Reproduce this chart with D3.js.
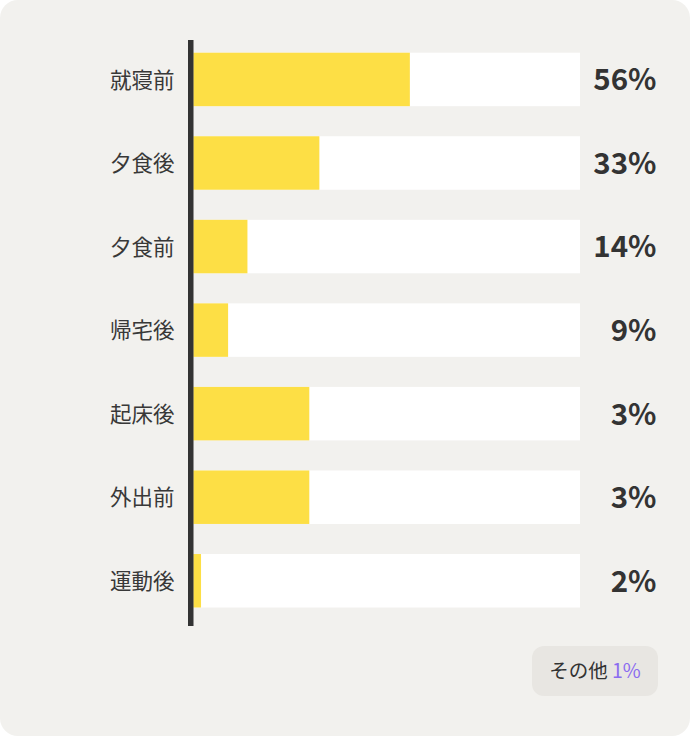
<!DOCTYPE html>
<html><head><meta charset="utf-8">
<script src="https://cdn.jsdelivr.net/npm/d3@7"></script>
<style>
html,body{margin:0;padding:0;background:#fff;}
svg{display:block;}
</style></head>
<body>
<svg id="c" width="690" height="736"></svg>
<script>
const categories = ["就寝前","夕食後","夕食前","帰宅後","起床後","外出前","運動後"];
const barValues = [56, 32.6, 14, 9, 30, 30, 2];
const valueLabels = ["56%","33%","14%","9%","3%","3%","2%"];
const otherLabel = "その他";
const otherValue = "1%";

const W = 690, H = 736;
const svg = d3.select("#c");
const font = "'Noto Sans CJK JP','Noto Sans',sans-serif";

svg.append("rect").attr("x",0).attr("y",0).attr("width",W).attr("height",H)
  .attr("rx",18).attr("fill","#f2f1ee");

const y = d3.scaleBand().domain(categories).range([52.7, 607.5]).paddingInner(0.36).paddingOuter(0);
const x = d3.scaleLinear().domain([0,100]).range([193.3, 580]);

const g = svg.append("g");
g.selectAll("rect.track").data(categories).join("rect").attr("class","track")
  .attr("x", x(0)).attr("y", d=>y(d)).attr("width", x(100)-x(0)).attr("height", y.bandwidth())
  .attr("fill","#ffffff");
g.selectAll("rect.bar").data(barValues).join("rect").attr("class","bar")
  .attr("x", x(0)).attr("y", (d,i)=>y(categories[i])).attr("width", d=>x(d)-x(0)).attr("height", y.bandwidth())
  .attr("fill","#fddf45");
svg.append("rect").attr("x",188).attr("y",40).attr("width",5.5).attr("height",586).attr("fill","#333333");

g.selectAll("text.cat").data(categories).join("text").attr("class","cat")
  .attr("x",174.5).attr("y", d=>y(d)+y.bandwidth()/2).attr("dy","0.38em")
  .attr("text-anchor","end").attr("font-family",font).attr("font-size",21.5).attr("font-weight",400)
  .attr("fill","#383838").text(d=>d);

g.selectAll("text.val").data(valueLabels).join("text").attr("class","val")
  .attr("x",656.5).attr("y", (d,i)=>y(categories[i])+y.bandwidth()/2).attr("dy","0.37em")
  .attr("text-anchor","end").attr("font-family",font).attr("font-weight",700).attr("font-size",29.5)
  .attr("fill","#333333").text(d=>d);

svg.append("rect").attr("x",532).attr("y",646).attr("width",126).attr("height",50).attr("rx",12)
  .attr("fill","#e8e6e2");
const t = svg.append("text").attr("x",595).attr("y",671).attr("dy","0.36em").attr("text-anchor","middle")
  .attr("font-family",font).attr("font-size",19.5).attr("fill","#333333");
t.append("tspan").text(otherLabel + " ");
t.append("tspan").attr("fill","#8b6cf0").text(otherValue);
</script>
</body></html>
